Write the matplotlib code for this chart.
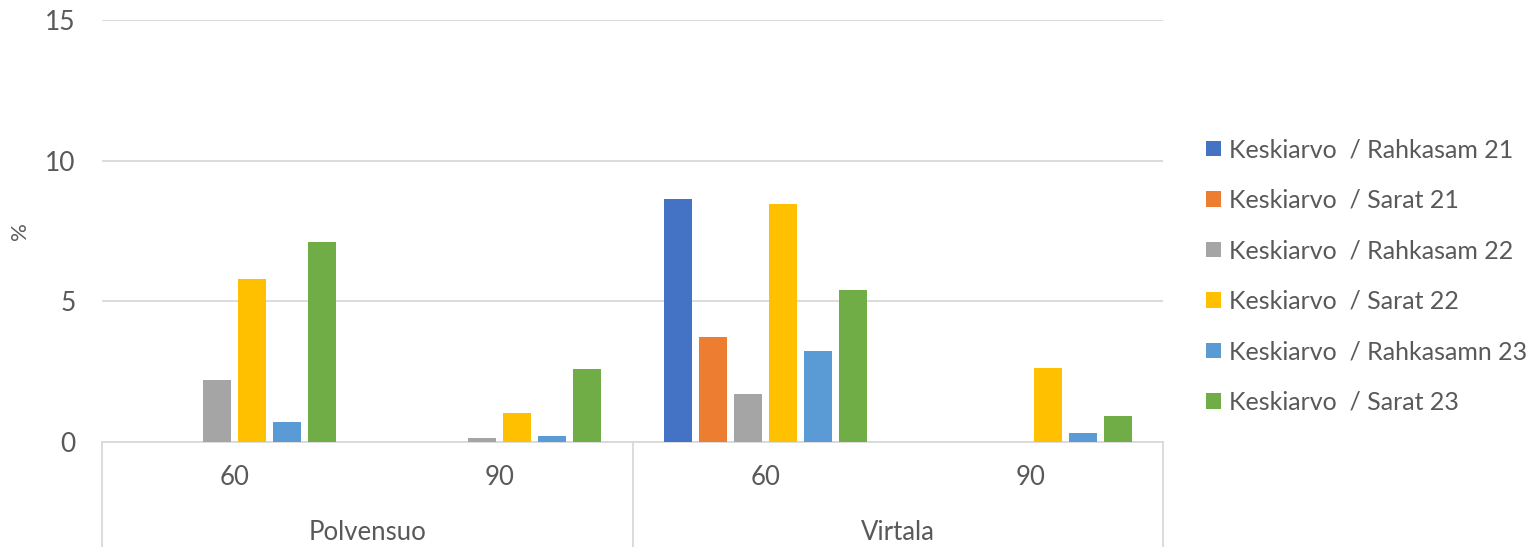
import numpy as np
import matplotlib
matplotlib.use("Agg")
import matplotlib.pyplot as plt
from matplotlib.patches import Patch
from matplotlib.transforms import blended_transform_factory

# ── Data ──────────────────────────────────────────────────────────────────────
sites   = ["Polvensuo", "Virtala"]
depths  = ["60", "90", "60", "90"]
series  = ["Keskiarvo  / Rahkasam 21", "Keskiarvo  / Sarat 21",
           "Keskiarvo  / Rahkasam 22", "Keskiarvo  / Sarat 22",
           "Keskiarvo  / Rahkasamn 23", "Keskiarvo  / Sarat 23"]
rahkasam21  = [0.0, 0.0, 8.64, 0.0]
sarat21     = [0.0, 0.0, 3.73, 0.0]
rahkasam22  = [2.19, 0.13, 1.70, 0.0]
sarat22     = [5.79, 1.04, 8.46, 2.63]
rahkasamn23 = [0.70, 0.20, 3.23, 0.31]
sarat23     = [7.12, 2.58, 5.42, 0.93]
values = [rahkasam21, sarat21, rahkasam22, sarat22, rahkasamn23, sarat23]

colors = ["#4472C4", "#ED7D31", "#A5A5A5", "#FFC000", "#5B9BD5", "#70AD47"]
TXT  = "#595959"
GRID = "#D9D9D9"

plt.rcParams["font.family"] = ["Lato", "DejaVu Sans"]

# ── Figure ────────────────────────────────────────────────────────────────────
fig = plt.figure(figsize=(15.35, 5.47), dpi=100)
ax = fig.add_axes([102 / 1535, 105 / 547, (1163 - 102) / 1535, (442 - 20) / 547])

slot, bar_w = 0.132, 0.106
x = np.arange(len(depths))
for k, (vals, col) in enumerate(zip(values, colors)):
    off = (k - (len(series) - 1) / 2) * slot
    ax.bar(x + off, vals, width=bar_w, color=col, zorder=3)

ax.set_xlim(-0.5, len(depths) - 0.5)
ax.set_ylim(0, 15)
ax.set_yticks([0, 5, 10, 15])
ax.yaxis.grid(True, color=GRID, linewidth=1.3, zorder=0)
ax.tick_params(axis="y", length=0, pad=19, labelsize=19, labelcolor=TXT)
ax.set_xticks([])
for s in ["top", "right", "left"]:
    ax.spines[s].set_visible(False)
ax.spines["bottom"].set_color(GRID)
ax.spines["bottom"].set_linewidth(1.3)
fig.text(20 / 1535, 1 - 231 / 547, "%", rotation=90, ha="center", va="center",
         fontsize=16, color=TXT)

# multi-level category axis
tr = blended_transform_factory(ax.transData, ax.transAxes)
for i, d in enumerate(depths):
    ax.text(i, -0.085, d, transform=tr, ha="center", va="center",
            fontsize=18.5, color=TXT)
for j, s in enumerate(sites):
    ax.text(2 * j + 0.5, -0.215, s, transform=tr, ha="center", va="center",
            fontsize=18.5, color=TXT)
for xv in [-0.5, 1.5, 3.5]:
    ax.plot([xv, xv], [0, -0.26], transform=tr, color=GRID, linewidth=1.3,
            clip_on=False, zorder=1)

handles = [Patch(facecolor=c, edgecolor="none") for c in colors]
fig.legend(handles, series, loc="center left", bbox_to_anchor=(1183 / 1535, 1 - 276 / 547),
           frameon=False, fontsize=18, labelcolor=TXT, handlelength=0.6,
           handleheight=0.6, handletextpad=0.35, labelspacing=1.1)

fig.savefig("out.png", dpi=100)
